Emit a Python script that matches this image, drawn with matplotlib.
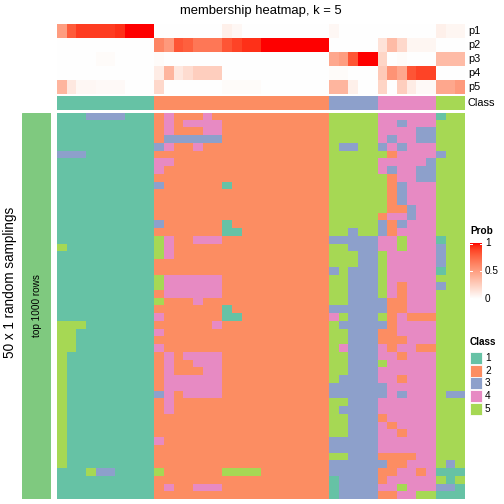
import numpy as np
import matplotlib
matplotlib.use("Agg")
import matplotlib.pyplot as plt
from matplotlib.colors import ListedColormap
from matplotlib.patches import Rectangle

plt.rcParams['font.family'] = ['Liberation Sans', 'DejaVu Sans']

# ---------------- data ----------------
title = "membership heatmap, k = 5"
prob_labels = ["p1", "p2", "p3", "p4", "p5"]
class_ids = [1, 2, 3, 4, 5]
class_colors = ["#66C2A5", "#FC8D62", "#8DA0CB", "#E78AC3", "#A6D854"]
column_class = [1]*10 + [2]*18 + [3]*5 + [4]*6 + [5]*3

p1 = [0.5, 0.8, 0.9, 0.9, 0.9, 0.9, 0.93, 1, 1, 1,
      0, 0, 0, 0, 0, 0, 0, 0.08, 0.04, 0, 0, 0, 0, 0, 0, 0, 0, 0,
      0.04, 0, 0, 0, 0,
      0, 0, 0, 0, 0, 0,
      0.08, 0.05, 0.05]
p2 = [0, 0, 0, 0, 0, 0, 0, 0, 0, 0,
      0.62, 0.52, 0.82, 0.78, 0.68, 0.68, 0.68, 0.82, 0.88, 0.93, 0.93, 1, 1, 1, 1, 1, 1, 1,
      0, 0, 0, 0, 0,
      0.15, 0.35, 0.2, 0.05, 0.05, 0.05,
      0, 0, 0]
p3 = [0, 0, 0, 0, 0.02, 0.02, 0, 0, 0, 0,
      0.02, 0, 0, 0, 0, 0, 0, 0, 0, 0, 0, 0, 0, 0, 0, 0, 0, 0,
      0.45, 0.5, 0.82, 1, 1,
      0.22, 0, 0.02, 0, 0, 0,
      0.35, 0.35, 0.35]
p4 = [0, 0, 0, 0, 0, 0, 0, 0, 0, 0,
      0.1, 0.38, 0.12, 0.18, 0.25, 0.25, 0.25, 0, 0, 0, 0, 0, 0, 0, 0, 0, 0, 0,
      0.02, 0.02, 0, 0, 0,
      0.28, 0.55, 0.45, 0.82, 0.88, 0.88,
      0, 0, 0]
p5 = [0.38, 0.12, 0.04, 0.04, 0.03, 0.03, 0.03, 0, 0, 0,
      0.2, 0, 0, 0, 0, 0, 0, 0.02, 0.02, 0.02, 0.02, 0, 0, 0, 0, 0, 0, 0,
      0.38, 0.38, 0.08, 0, 0,
      0.22, 0, 0.25, 0.1, 0.03, 0.03,
      0.45, 0.45, 0.52]

# class assignment of each sampling (rows) for each column
samplings = [
    "1113333111" "2422242222" "22222222" "55555" "444444" "155",
    "1111111111" "2424444222" "22222222" "55555" "443444" "555",
    "1111111111" "2422244222" "22222222" "55555" "444433" "555",
    "1111111111" "2333333222" "22222222" "55555" "434433" "555",
    "1111111111" "3422422222" "22222222" "53355" "343444" "555",
    "3331111111" "2222222222" "22222222" "55555" "524444" "355",
    "1111111111" "4422222222" "22222222" "55555" "444443" "555",
    "1111111111" "4222222222" "22222222" "55555" "434433" "555",
    "1111111111" "2222222222" "22222222" "55555" "524433" "555",
    "1111111111" "3222222122" "22222222" "55555" "523444" "555",
    "1111111111" "2222222222" "22222222" "55555" "523444" "555",
    "1111111111" "2222222222" "22222222" "55555" "523444" "555",
    "1111111111" "2222222222" "22222222" "55555" "522344" "555",
    "1111111111" "2222222222" "22222222" "55555" "244344" "555",
    "1111111111" "3222222122" "22222222" "55555" "323444" "555",
    "1111111111" "2222222112" "22222222" "55355" "324444" "555",
    "1111111111" "5422444222" "22222222" "33333" "445444" "155",
    "5111111111" "5422222222" "22222222" "55333" "445444" "355",
    "1111111111" "5422222222" "22222222" "55533" "544444" "355",
    "1111111111" "2222222222" "22222222" "55533" "544444" "355",
    "1111111111" "2222222222" "22222222" "35333" "544444" "155",
    "1111111111" "5444444222" "22222222" "55333" "544444" "555",
    "1111111111" "5444444222" "22222222" "55333" "542444" "355",
    "1111111111" "2444444222" "22222222" "55333" "542444" "555",
    "1111111111" "5222422222" "22222222" "55333" "322444" "555",
    "1111111111" "2222222122" "22222222" "33333" "322444" "555",
    "1111111111" "4222222112" "22222222" "45333" "524222" "555",
    "5551111111" "2222224222" "22222222" "53333" "324444" "555",
    "5511111111" "4222222222" "22222222" "55333" "224444" "555",
    "5511111111" "2222222222" "22222222" "55333" "222444" "555",
    "5511111111" "4222222222" "22222222" "54333" "424422" "555",
    "5111111111" "2424444222" "22222222" "55333" "442444" "555",
    "5111111111" "2422444222" "22222222" "55333" "544444" "555",
    "5111111111" "2422244222" "22222222" "55333" "444444" "555",
    "5111111111" "2444444222" "22222222" "53333" "442444" "555",
    "5111111111" "2444444222" "22222222" "33333" "344444" "555",
    "5111111111" "3424444222" "22222222" "33333" "343444" "533",
    "5111111111" "2422222222" "22222222" "55333" "444444" "555",
    "5111111111" "2422222222" "22222222" "53333" "444444" "555",
    "5111111111" "2222222222" "22222222" "55333" "244444" "555",
    "5111111111" "2222222222" "22222222" "55333" "424444" "555",
    "5111111111" "2222222222" "22222222" "55333" "442444" "555",
    "5111111111" "4222222222" "22222222" "33333" "444444" "555",
    "5111111111" "2222222222" "22222222" "33333" "444444" "555",
    "5111111111" "2222222222" "22222222" "55333" "222244" "555",
    "5111111111" "2222222222" "22222222" "33333" "322444" "535",
    "1115331111" "5222222555" "52222222" "33333" "224424" "111",
    "1111111111" "2222222222" "22222222" "13333" "244444" "515",
    "1111111111" "2422444222" "22222222" "13333" "445444" "331",
    "1111111111" "2222222222" "22222222" "13333" "224455" "111",
]

# ---------------- colour ramp white -> red in LAB ----------------
def _lin(c):
    c = np.asarray(c, float)
    return np.where(c <= 0.04045, c / 12.92, ((c + 0.055) / 1.055) ** 2.4)

def _gam(c):
    c = np.clip(c, 0, 1)
    return np.where(c <= 0.0031308, 12.92 * c, 1.055 * c ** (1 / 2.4) - 0.055)

_M = np.array([[0.4124, 0.3576, 0.1805], [0.2126, 0.7152, 0.0722], [0.0193, 0.1192, 0.9505]])
_WP = np.array([0.95047, 1.0, 1.08883])

def rgb2lab(rgb):
    xyz = _M @ _lin(rgb) / _WP
    f = np.where(xyz > 0.008856, np.cbrt(xyz), 7.787 * xyz + 16 / 116)
    return np.array([116 * f[1] - 16, 500 * (f[0] - f[1]), 200 * (f[1] - f[2])])

def lab2rgb(lab):
    L, a, b = lab
    fy = (L + 16) / 116
    fx = fy + a / 500
    fz = fy - b / 200
    f = np.array([fx, fy, fz])
    xyz = np.where(f ** 3 > 0.008856, f ** 3, (f - 16 / 116) / 7.787) * _WP
    return _gam(np.linalg.inv(_M) @ xyz)

w_lab = rgb2lab([1, 1, 1])
r_lab = rgb2lab([1, 0, 0])
ramp = [lab2rgb(w_lab * (1 - t) + r_lab * t) for t in np.linspace(0, 1, 256)]
prob_cmap = ListedColormap(ramp)
class_cmap = ListedColormap(class_colors)

# ---------------- figure ----------------
W = H = 504
fig = plt.figure(figsize=(7, 7), dpi=72)

def ax_px(x0, y0, x1, y1):
    ax = fig.add_axes([x0 / W, 1 - y1 / H, (x1 - x0) / W, (y1 - y0) / H])
    ax.set_axis_off()
    return ax

X0, X1 = 57, 465
prob = np.array([p1, p2, p3, p4, p5])
ax_p = ax_px(X0, 24, X1, 94)
ax_p.imshow(prob, cmap=prob_cmap, vmin=0, vmax=1, aspect='auto', interpolation='nearest')

ax_c = ax_px(X0, 96, X1, 110)
ax_c.imshow(np.array([column_class]), cmap=class_cmap, vmin=0.5, vmax=5.5,
            aspect='auto', interpolation='nearest')

mat = np.array([[int(ch) for ch in row] for row in samplings])
ax_m = ax_px(X0, 112.7, X1, 499)
ax_m.imshow(mat, cmap=class_cmap, vmin=0.5, vmax=5.5, aspect='auto', interpolation='nearest')

ax_l = ax_px(22, 112.7, 51, 499)
ax_l.add_patch(Rectangle((0, 0), 1, 1, color="#7FC97F", transform=ax_l.transAxes))
ax_l.text(0.5, 0.5, "top 1000 rows", rotation=90, ha='center', va='center',
          fontsize=10, transform=ax_l.transAxes)

# titles and labels
fig.text(261 / W, 1 - 11 / H, title, ha='center', va='center', fontsize=13)
fig.text(10 / W, 1 - 282 / H, "50 x 1 random samplings", rotation=90,
         ha='center', va='center', fontsize=13.5)
row_h = (94 - 24) / 5
for i, lab in enumerate(prob_labels):
    fig.text(468 / W, 1 - (24 + row_h * (i + 0.5)) / H, lab, ha='left', va='center', fontsize=11)
fig.text(468 / W, 1 - 103 / H, "Class", ha='left', va='center', fontsize=11)

# Prob legend
fig.text(470 / W, 1 - 231 / H, "Prob", ha='left', va='center', fontsize=10, fontweight='bold')
ax_cb = ax_px(470, 243, 482, 299)
ax_cb.imshow(np.linspace(1, 0, 100)[:, None], cmap=prob_cmap, vmin=0, vmax=1,
             aspect='auto', interpolation='bilinear', extent=(0, 1, 0, 1))
ax_cb.set_xlim(0, 1); ax_cb.set_ylim(0, 1)
for v in [0.0, 0.5, 1.0]:
    yy = min(max(v, 0.01), 0.99)
    ax_cb.plot([0, 0.2], [yy, yy], color='white', lw=1)
    ax_cb.plot([0.8, 1], [yy, yy], color='white', lw=1)
for v, lab in [(1.0, "1"), (0.5, "0.5"), (0.0, "0")]:
    fig.text(485 / W, 1 - (299 - v * 56) / H, lab, ha='left', va='center', fontsize=10)

# Class legend
fig.text(470 / W, 1 - 342 / H, "Class", ha='left', va='center', fontsize=10, fontweight='bold')
for i, (cid, col) in enumerate(zip(class_ids, class_colors)):
    yc = 358 + i * 12.7
    fig.patches.append(Rectangle((470 / W, 1 - (yc + 6) / H), 12 / W, 12 / H,
                                 transform=fig.transFigure, facecolor=col,
                                 edgecolor='white', lw=0.8))
    fig.text(485 / W, 1 - yc / H, str(cid), ha='left', va='center', fontsize=10)

fig.savefig("out.png", dpi=72)
